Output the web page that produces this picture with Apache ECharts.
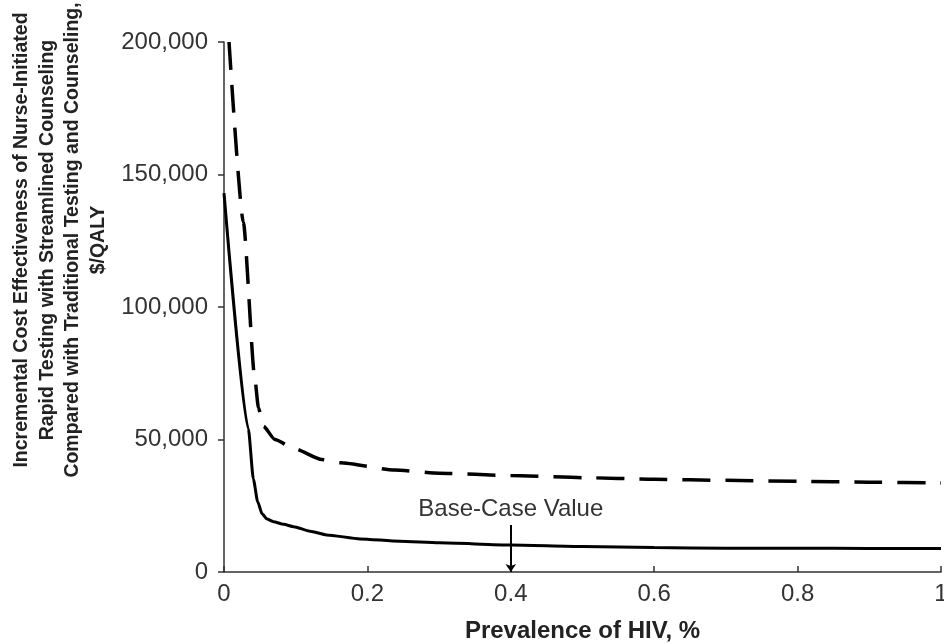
<!DOCTYPE html>
<html lang="en">
  <head>
    <meta charset="UTF-8" />
    <title>ICER vs HIV prevalence</title>
    <script src="https://cdn.jsdelivr.net/npm/echarts@6/dist/echarts.min.js"></script>
    <style>
      html, body { margin: 0; padding: 0; background: #fff; }
      #chart { width: 944px; height: 644px; }
    </style>
  </head>
  <body>
    <div id="chart"></div>
  </body>
</html>
<script>
  // data: [prevalence, $/QALY]
  const streamlined = [
    [0, 143000], [0.034, 54000], [0.041, 35000], [0.047, 26500], [0.053, 22000],
    [0.06, 20000], [0.069, 19000], [0.083, 18000], [0.097, 17100], [0.12, 15400],
    [0.143, 14000], [0.19, 12500], [0.245, 11600], [0.3, 11000], [0.4, 10200],
    [0.5, 9600], [0.6, 9200], [0.7, 9000], [0.8, 8950], [0.9, 8900], [1.0, 8900],
  ];
  const traditional = [
    [0.007, 200000], [0.027, 132000], [0.043, 73000], [0.048, 62000], [0.055, 55000],
    [0.071, 50000], [0.097, 46700], [0.136, 42500], [0.162, 41200], [0.238, 38500],
    [0.3, 37300], [0.4, 36400], [0.5, 35600], [0.6, 35000], [0.7, 34600],
    [0.8, 34200], [0.9, 33900], [1.0, 33600],
  ];
  const baseCase = [0.4, 17700];
  const yTitle = [
    "Incremental Cost Effectiveness of Nurse-Initiated",
    "Rapid Testing with Streamlined Counseling",
    "Compared with Traditional Testing and Counseling,",
    "$/QALY",
  ];

  const font = "Liberation Sans, Arial, sans-serif";
  const chart = echarts.init(document.getElementById("chart"));

  const option = {
    animation: false,
    grid: { left: 224, right: 3, top: 42, bottom: 72, outerBoundsMode: "none" },
    xAxis: {
      type: "value",
      min: 0,
      max: 1,
      interval: 0.2,
      name: "Prevalence of HIV, %",
      nameLocation: "middle",
      nameGap: 47,
      nameTextStyle: { fontFamily: font, fontSize: 24, fontWeight: "bold", color: "#222" },
      axisLine: { lineStyle: { color: "#333", width: 1.5 } },
      axisTick: { inside: true, length: 6, lineStyle: { color: "#333", width: 1.5 } },
      axisLabel: { fontFamily: font, fontSize: 24, color: "#333", margin: 10 },
      splitLine: { show: false },
    },
    yAxis: {
      type: "value",
      min: 0,
      max: 200000,
      interval: 50000,
      axisLine: { show: true, lineStyle: { color: "#333", width: 1.5 } },
      axisTick: { show: true, length: 6, lineStyle: { color: "#333", width: 1.5 } },
      axisLabel: {
        fontFamily: font,
        fontSize: 24,
        color: "#333",
        margin: 16,
        formatter: (v) => v.toLocaleString("en-US"),
      },
      splitLine: { show: false },
    },
    graphic: [
      {
        type: "text",
        x: 60,
        y: 240,
        rotation: Math.PI / 2,
        style: {
          text: yTitle.join("\n"),
          font: "bold 19.5px " + font,
          fill: "#222",
          align: "center",
          verticalAlign: "middle",
          lineHeight: 25.5,
        },
      },
    ],
    series: [
      {
        type: "line",
        data: streamlined,
        showSymbol: false,
        smooth: 0.2,
        smoothMonotone: "x",
        lineStyle: { color: "#000", width: 3 },
        markLine: {
          silent: true,
          symbol: ["none", "arrow"],
          symbolSize: 8,
          lineStyle: { color: "#000", width: 2, type: "solid" },
          label: {
            show: true,
            position: "start",
            formatter: "Base-Case Value",
            fontFamily: font,
            fontSize: 24,
            color: "#333",
            distance: 4,
          },
          data: [[{ coord: baseCase }, { coord: [baseCase[0], 0] }]],
        },
      },
      {
        type: "line",
        data: traditional,
        showSymbol: false,
        smooth: 0.2,
        smoothMonotone: "x",
        lineStyle: { color: "#000", width: 3.5, type: [28, 15] },
      },
    ],
  };
  chart.setOption(option);
</script>
